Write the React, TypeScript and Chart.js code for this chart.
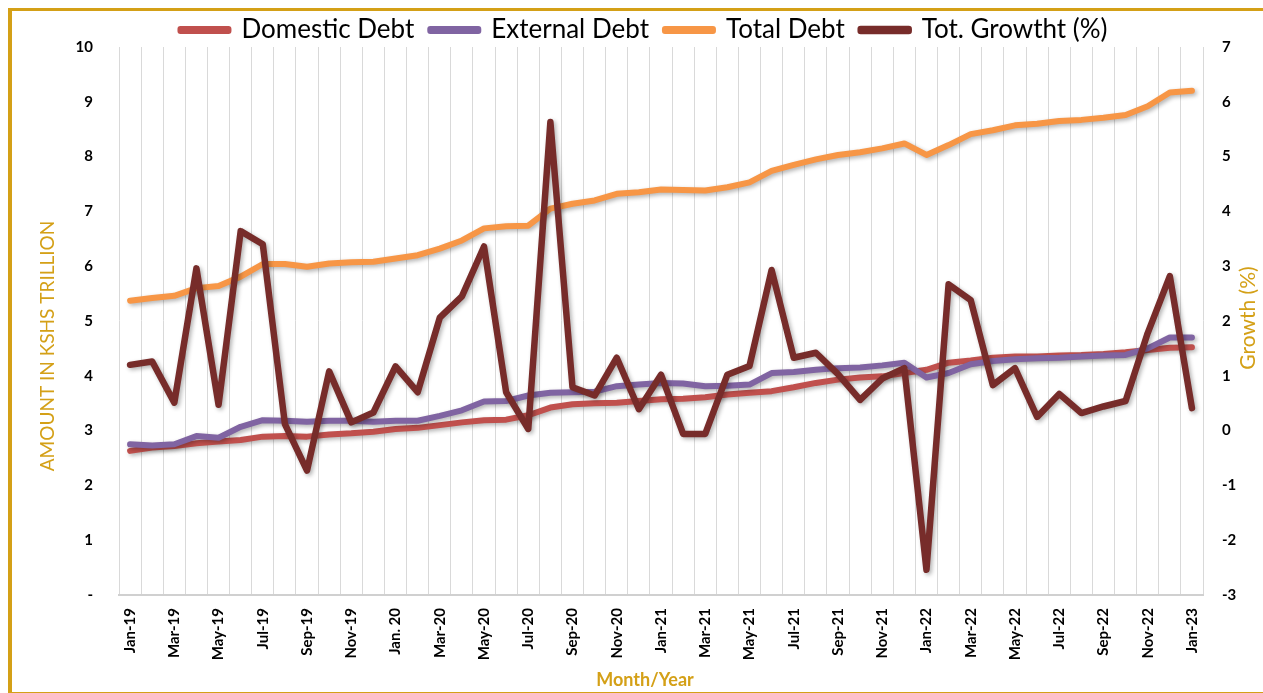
import { useEffect, useRef } from "react";
import { Chart, registerables } from "chart.js";

Chart.register(...registerables);

const months = [
  "Jan-19", "Feb-19", "Mar-19", "Apr-19", "May-19", "Jun-19", "Jul-19", "Aug-19", "Sep-19", "Oct-19", "Nov-19", "Dec-19",
  "Jan. 20", "Feb-20", "Mar-20", "Apr-20", "May-20", "Jun-20", "Jul-20", "Aug-20", "Sep-20", "Oct-20", "Nov-20", "Dec-20",
  "Jan-21", "Feb-21", "Mar-21", "Apr-21", "May-21", "Jun-21", "Jul-21", "Aug-21", "Sep-21", "Oct-21", "Nov-21", "Dec-21",
  "Jan-22", "Feb-22", "Mar-22", "Apr-22", "May-22", "Jun-22", "Jul-22", "Aug-22", "Sep-22", "Oct-22", "Nov-22", "Dec-22",
  "Jan-23",
];

const domesticDebt = [
  2.63, 2.69, 2.72, 2.77, 2.8, 2.83, 2.89, 2.9, 2.89, 2.93, 2.95, 2.98,
  3.03, 3.05, 3.1, 3.15, 3.19, 3.2, 3.28, 3.42, 3.48, 3.5, 3.51, 3.54,
  3.57, 3.58, 3.61, 3.66, 3.69, 3.72, 3.79, 3.87, 3.93, 3.97, 3.99, 4.05,
  4.11, 4.24, 4.28, 4.33, 4.35, 4.35, 4.37, 4.38, 4.4, 4.43, 4.47, 4.51,
  4.52,
];

const externalDebt = [
  2.75, 2.73, 2.75, 2.9, 2.87, 3.07, 3.19, 3.18, 3.16, 3.18, 3.18, 3.16,
  3.18, 3.18, 3.27, 3.37, 3.53, 3.54, 3.64, 3.69, 3.7, 3.71, 3.81, 3.84,
  3.87, 3.86, 3.81, 3.82, 3.84, 4.05, 4.07, 4.11, 4.14, 4.15, 4.19, 4.24,
  3.97, 4.05, 4.21, 4.27, 4.3, 4.32, 4.33, 4.35, 4.37, 4.38, 4.5, 4.7,
  4.7,
];

const totalDebt = [
  5.37, 5.42, 5.46, 5.6, 5.64, 5.81, 6.04, 6.04, 5.99, 6.05, 6.07, 6.08,
  6.14, 6.2, 6.32, 6.47, 6.69, 6.73, 6.74, 7.05, 7.14, 7.2, 7.32, 7.35,
  7.4, 7.39, 7.38, 7.44, 7.53, 7.74, 7.85, 7.95, 8.03, 8.08, 8.15, 8.24,
  8.03, 8.21, 8.41, 8.48, 8.57, 8.6, 8.65, 8.67, 8.71, 8.76, 8.92, 9.17,
  9.2,
];

const totGrowth = [
  1.2, 1.26, 0.51, 2.96, 0.47, 3.64, 3.4, 0.12, -0.73, 1.08, 0.15, 0.33,
  1.17, 0.7, 2.06, 2.45, 3.36, 0.7, 0.03, 5.63, 0.79, 0.64, 1.33, 0.39,
  1.02, -0.06, -0.06, 1.02, 1.18, 2.93, 1.33, 1.42, 1.03, 0.56, 0.95, 1.14,
  -2.54, 2.67, 2.38, 0.83, 1.14, 0.25, 0.67, 0.32, 0.44, 0.54, 1.78, 2.82,
  0.41,
];

const leftTickLabels = ["-", "1", "2", "3", "4", "5", "6", "7", "8", "9", "10"];
const rightTickLabels = ["-3", "-2", "-1", "0", "1", "2", "3", "4", "5", "6", "7"];

const seriesNames = ["Domestic Debt", "External Debt", "Total Debt", "Tot. Growtht (%)"];
const leftTitle = "AMOUNT IN KSHS TRILLION";
const rightTitle = "Growth (%)";
const bottomTitle = "Month/Year";

const GOLD = "#D4A017";
const FONT = "Lato, 'Open Sans', sans-serif";

const shadowPlugin = {
  id: "lineShadow",
  beforeDatasetDraw(chart: any) {
    const ctx = chart.ctx;
    ctx.save();
    ctx.shadowColor = "rgba(0,0,0,0.3)";
    ctx.shadowBlur = 4;
    ctx.shadowOffsetX = 2;
    ctx.shadowOffsetY = 2;
  },
  afterDatasetDraw(chart: any) {
    chart.ctx.restore();
  },
};

const titlesPlugin = {
  id: "axisTitles",
  afterDraw(chart: any) {
    const ctx = chart.ctx;
    ctx.save();
    ctx.fillStyle = GOLD;
    ctx.textAlign = "center";
    ctx.textBaseline = "middle";
    ctx.font = `19px ${FONT}`;
    ctx.save();
    ctx.translate(36, 334);
    ctx.rotate(-Math.PI / 2);
    ctx.fillText(leftTitle, 0, 0);
    ctx.restore();
    ctx.font = `21px ${FONT}`;
    ctx.save();
    ctx.translate(1236, 306);
    ctx.rotate(-Math.PI / 2);
    ctx.fillText(rightTitle, 0, 0);
    ctx.restore();
    ctx.font = `bold 18px ${FONT}`;
    ctx.fillText(bottomTitle, 633, 668);
    ctx.restore();
  },
};

export default function App() {
  const canvasRef = useRef<HTMLCanvasElement | null>(null);

  useEffect(() => {
    if (!canvasRef.current) return;
    const mk = (label: string, data: number[], color: string, axis: string, order: number, width: number) => ({
      label,
      data,
      borderColor: color,
      backgroundColor: color,
      borderWidth: width,
      pointRadius: 0,
      pointHoverRadius: 0,
      tension: 0,
      borderCapStyle: "round",
      borderJoinStyle: "round",
      yAxisID: axis,
      order,
      fill: false,
    });
    const chart = new Chart(canvasRef.current, {
      type: "line",
      data: {
        labels: months,
        datasets: [
          mk(seriesNames[0], domesticDebt, "#C0504D", "y", 4, 6),
          mk(seriesNames[1], externalDebt, "#8064A2", "y", 3, 6),
          mk(seriesNames[2], totalDebt, "#F79646", "y", 2, 6),
          mk(seriesNames[3], totGrowth, "#772C2A", "y1", 1, 6.5),
        ] as any,
      },
      options: {
        animation: false,
        responsive: true,
        maintainAspectRatio: false,
        layout: { padding: { top: -14, left: 0, right: 0, bottom: 0 } },
        plugins: {
          tooltip: { enabled: false },
          legend: {
            position: "top",
            maxHeight: 46,
            labels: {
              font: { family: FONT, size: 26 },
              color: "#000",
              boxWidth: 48,
              boxHeight: 2,
              padding: 16,
              sort: (a: any, b: any) => a.datasetIndex - b.datasetIndex,
            },
          },
        } as any,
        scales: {
          x: {
            offset: true,
            grid: { offset: true, color: "#d9d9d9", lineWidth: 1, drawTicks: false },
            border: { display: true, color: "#d0d0d0", width: 2 },
            ticks: {
              autoSkip: false,
              minRotation: 90,
              maxRotation: 90,
              padding: 13,
              color: "#000",
              font: { family: FONT, size: 15, weight: "bold" },
              callback: (_v: any, i: number) => (i % 2 === 0 ? months[i] : ""),
            },
            afterFit: (s: any) => {
              s.height = 97;
            },
          },
          y: {
            position: "left",
            min: 0,
            max: 10,
            grid: { display: false, drawTicks: false },
            border: { display: false },
            ticks: {
              stepSize: 1,
              padding: 26,
              color: "#000",
              font: { family: FONT, size: 15, weight: "bold" },
              callback: (v: any) => leftTickLabels[Math.round(v)],
            },
            afterFit: (s: any) => {
              s.width = 107;
            },
          },
          y1: {
            position: "right",
            min: -3,
            max: 7,
            grid: { display: false, drawTicks: false },
            border: { display: false },
            ticks: {
              stepSize: 1,
              padding: 19,
              color: "#000",
              font: { family: FONT, size: 15, weight: "bold" },
              callback: (v: any) => rightTickLabels[Math.round(v) + 3],
            },
            afterFit: (s: any) => {
              s.width = 73;
            },
          },
        } as any,
      },
      plugins: [shadowPlugin, titlesPlugin],
    });
    return () => chart.destroy();
  }, []);

  return (
    <div
      style={{
        position: "fixed",
        left: 8,
        top: 8,
        width: 1268,
        height: 688,
        borderTop: `3px solid ${GOLD}`,
        borderLeft: `4px solid ${GOLD}`,
        borderBottom: `4px solid ${GOLD}`,
        borderRight: "none",
        boxSizing: "border-box",
        background: "#fff",
      }}
    >
      <div style={{ position: "relative", width: "100%", height: "100%", paddingTop: 1, boxSizing: "border-box" }}>
        <canvas ref={canvasRef} />
      </div>
    </div>
  );
}
